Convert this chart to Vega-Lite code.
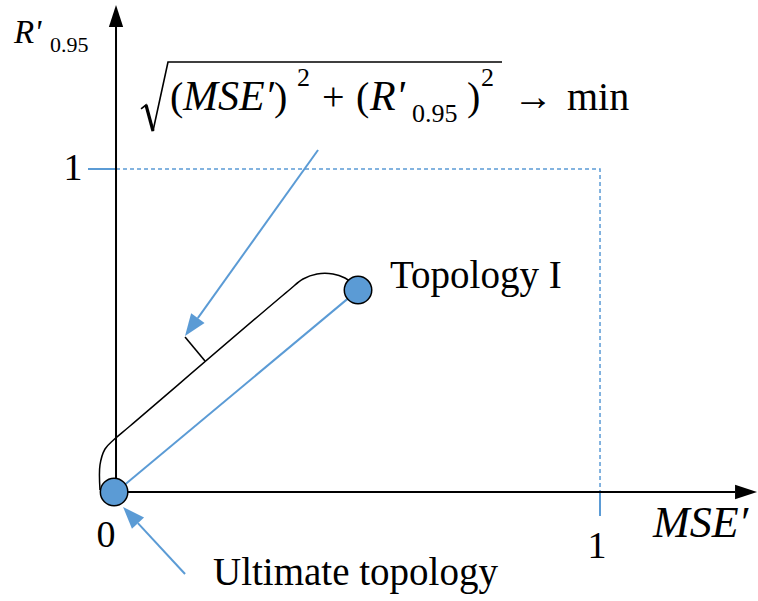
{
  "$schema": "https://vega.github.io/schema/vega-lite/v6.json",
  "width": 758,
  "height": 601,
  "autosize": {"type": "fit", "contains": "padding"},
  "padding": 0,
  "background": "white",
  "config": {"view": {"stroke": null}},
  "encoding": {
    "x": {"field": "x", "type": "quantitative", "scale": {"domain": [-0.2397, 1.3264], "nice": false, "zero": false}, "axis": null},
    "y": {"field": "y", "type": "quantitative", "scale": {"domain": [-0.3375, 1.5232], "nice": false, "zero": false}, "axis": null}
  },
  "layer": [
    {
      "data": {"values": [
        {"seg": "bound", "i": 0, "x": 0, "y": 1},
        {"seg": "bound", "i": 1, "x": 1, "y": 1},
        {"seg": "bound", "i": 2, "x": 1, "y": 0}
      ]},
      "mark": {"type": "line", "color": "#5B9BD5", "strokeWidth": 1.5, "strokeDash": [4, 3]},
      "encoding": {"detail": {"field": "seg"}, "order": {"field": "i", "type": "quantitative"}}
    },
    {
      "data": {"values": [
        {"seg": "tickY", "i": 0, "x": -0.0579, "y": 1},
        {"seg": "tickY", "i": 1, "x": 0, "y": 1},
        {"seg": "tickX", "i": 0, "x": 1, "y": 0},
        {"seg": "tickX", "i": 1, "x": 1, "y": -0.0743},
        {"seg": "link", "i": 0, "x": 0, "y": 0},
        {"seg": "link", "i": 1, "x": 0.5, "y": 0.625},
        {"seg": "arrowTop", "i": 0, "x": 0.4174, "y": 1.0588},
        {"seg": "arrowTop", "i": 1, "x": 0.169, "y": 0.5384},
        {"seg": "arrowBottom", "i": 0, "x": 0.1426, "y": -0.2539},
        {"seg": "arrowBottom", "i": 1, "x": 0.0452, "y": -0.0963}
      ]},
      "mark": {"type": "line", "color": "#5B9BD5", "strokeWidth": 2},
      "encoding": {"detail": {"field": "seg"}, "order": {"field": "i", "type": "quantitative"}}
    },
    {
      "data": {"values": [
        {"seg": "yaxis", "i": 0, "x": 0, "y": 0},
        {"seg": "yaxis", "i": 1, "x": 0, "y": 1.4396},
        {"seg": "xaxis", "i": 0, "x": 0, "y": 0},
        {"seg": "xaxis", "i": 1, "x": 1.2789, "y": 0}
      ]},
      "mark": {"type": "line", "color": "black", "strokeWidth": 2},
      "encoding": {"detail": {"field": "seg"}, "order": {"field": "i", "type": "quantitative"}}
    },
    {
      "data": {"values": [
        {"seg": "bracketTick", "i": 0, "x": 0.1426, "y": 0.4799},
        {"seg": "bracketTick", "i": 1, "x": 0.1839, "y": 0.4056},
        {"seg": "radical", "i": 0, "x": 0.0517, "y": 1.1858},
        {"seg": "radical", "i": 1, "x": 0.062, "y": 1.1981},
        {"seg": "radical", "i": 2, "x": 0.0764, "y": 1.1176},
        {"seg": "radical", "i": 3, "x": 0.1074, "y": 1.3313},
        {"seg": "radical", "i": 4, "x": 0.7975, "y": 1.3313}
      ]},
      "mark": {"type": "line", "color": "black", "strokeWidth": 1.6},
      "encoding": {"detail": {"field": "seg"}, "order": {"field": "i", "type": "quantitative"}}
    },
    {
      "data": {"values": [
        {"seg": "radicalStem", "i": 0, "x": 0.062, "y": 1.1981},
        {"seg": "radicalStem", "i": 1, "x": 0.0764, "y": 1.1176}
      ]},
      "mark": {"type": "line", "color": "black", "strokeWidth": 3.2},
      "encoding": {"detail": {"field": "seg"}, "order": {"field": "i", "type": "quantitative"}}
    },
    {
      "data": {"values": [
        {"i": 0, "x": -0.0331, "y": 0.0062},
        {"i": 1, "x": -0.0331, "y": 0.0836},
        {"i": 2, "x": -0.0227, "y": 0.1331},
        {"i": 3, "x": -0.0041, "y": 0.1625},
        {"i": 4, "x": 0.0289, "y": 0.2043},
        {"i": 5, "x": 0.3554, "y": 0.6223},
        {"i": 6, "x": 0.3864, "y": 0.6594},
        {"i": 7, "x": 0.4153, "y": 0.6749},
        {"i": 8, "x": 0.4483, "y": 0.6749},
        {"i": 9, "x": 0.4731, "y": 0.6625},
        {"i": 10, "x": 0.4876, "y": 0.6471}
      ]},
      "mark": {"type": "line", "color": "black", "strokeWidth": 1.5, "interpolate": "catmull-rom"},
      "encoding": {"order": {"field": "i", "type": "quantitative"}}
    },
    {
      "data": {"values": [
        {"x": 0, "y": 1.4737, "angle": 0},
        {"x": 1.3017, "y": 0, "angle": 90}
      ]},
      "mark": {"type": "point", "filled": true, "shape": "M0,-1L0.65,1L-0.65,1Z", "size": 484, "color": "black", "opacity": 1},
      "encoding": {"angle": {"field": "angle", "type": "quantitative", "scale": null}}
    },
    {
      "data": {"values": [
        {"x": 0.1558, "y": 0.5105, "angle": 215.7},
        {"x": 0.03, "y": -0.0715, "angle": 317.2}
      ]},
      "mark": {"type": "point", "filled": true, "shape": "M0,-1L0.75,1L-0.75,1Z", "size": 484, "color": "#5B9BD5", "opacity": 1},
      "encoding": {"angle": {"field": "angle", "type": "quantitative", "scale": null}}
    },
    {
      "data": {"values": [
        {"name": "Ultimate topology", "x": -0.004, "y": 0},
        {"name": "Topology I", "x": 0.5, "y": 0.625}
      ]},
      "mark": {"type": "point", "shape": "circle", "filled": true, "fill": "#5B9BD5", "stroke": "black", "strokeWidth": 1.5, "size": 755, "opacity": 1}
    },
    {
      "data": {"values": [
        {"t": "Topology I", "x": 0.5661, "y": 0.6316},
        {"t": "Ultimate topology", "x": 0.2004, "y": -0.2879}
      ]},
      "mark": {"type": "text", "font": "Liberation Serif", "fontSize": 39, "align": "left", "baseline": "alphabetic", "color": "black"},
      "encoding": {"text": {"field": "t"}}
    },
    {
      "data": {"values": [
        {"t": "1", "x": -0.0888, "y": 0.9659},
        {"t": "0", "x": -0.0207, "y": -0.1703},
        {"t": "1", "x": 0.9938, "y": -0.2043}
      ]},
      "mark": {"type": "text", "font": "Liberation Serif", "fontSize": 38, "align": "center", "baseline": "alphabetic", "color": "black"},
      "encoding": {"text": {"field": "t"}}
    },
    {
      "data": {"values": [
        {"t": "(", "x": 0.1116, "y": 1.1827},
        {"t": ")", "x": 0.3264, "y": 1.1827},
        {"t": "+", "x": 0.4256, "y": 1.1827},
        {"t": "(", "x": 0.4959, "y": 1.1827},
        {"t": ")", "x": 0.7252, "y": 1.1827},
        {"t": "→", "x": 0.8202, "y": 1.1827},
        {"t": "min", "x": 0.9318, "y": 1.1827}
      ]},
      "mark": {"type": "text", "font": "Liberation Serif", "fontSize": 40, "align": "left", "baseline": "alphabetic", "color": "black"},
      "encoding": {"text": {"field": "t"}}
    },
    {
      "data": {"values": [
        {"t": "MSE′", "x": 0.1384, "y": 1.1827},
        {"t": "R'", "x": 0.5248, "y": 1.1827}
      ]},
      "mark": {"type": "text", "font": "Liberation Serif", "fontStyle": "italic", "fontSize": 42, "align": "left", "baseline": "alphabetic", "color": "black"},
      "encoding": {"text": {"field": "t"}}
    },
    {
      "data": {"values": [
        {"t": "2", "x": 0.374, "y": 1.258},
        {"t": "2", "x": 0.7541, "y": 1.258},
        {"t": "0.95", "x": 0.6116, "y": 1.1455}
      ]},
      "mark": {"type": "text", "font": "Liberation Serif", "fontSize": 26, "align": "left", "baseline": "alphabetic", "color": "black"},
      "encoding": {"text": {"field": "t"}}
    },
    {
      "data": {"values": [
        {"t": "R'", "x": -0.2107, "y": 1.3901}
      ]},
      "mark": {"type": "text", "font": "Liberation Serif", "fontStyle": "italic", "fontSize": 33, "align": "left", "baseline": "alphabetic", "color": "black"},
      "encoding": {"text": {"field": "t"}}
    },
    {
      "data": {"values": [
        {"t": "0.95", "x": -0.1364, "y": 1.3622}
      ]},
      "mark": {"type": "text", "font": "Liberation Serif", "fontSize": 22, "align": "left", "baseline": "alphabetic", "color": "black"},
      "encoding": {"text": {"field": "t"}}
    },
    {
      "data": {"values": [
        {"t": "MSE′", "x": 1.1095, "y": -0.1393}
      ]},
      "mark": {"type": "text", "font": "Liberation Serif", "fontStyle": "italic", "fontSize": 44, "align": "left", "baseline": "alphabetic", "color": "black"},
      "encoding": {"text": {"field": "t"}}
    }
  ]
}
